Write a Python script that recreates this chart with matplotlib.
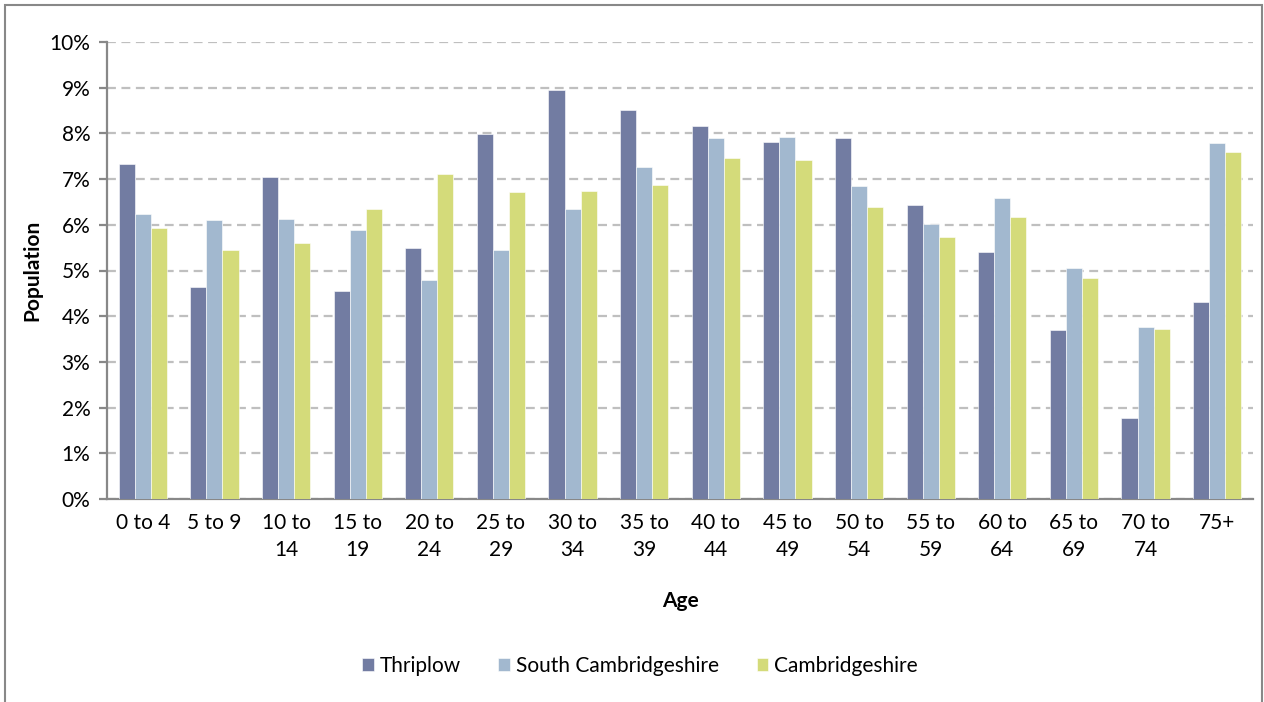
import matplotlib
matplotlib.use("Agg")
import matplotlib.pyplot as plt
import numpy as np
from matplotlib.patches import Rectangle
from matplotlib.ticker import FuncFormatter

categories = ["0 to 4", "5 to 9", "10 to\n14", "15 to\n19", "20 to\n24", "25 to\n29",
              "30 to\n34", "35 to\n39", "40 to\n44", "45 to\n49", "50 to\n54", "55 to\n59",
              "60 to\n64", "65 to\n69", "70 to\n74", "75+"]
thriplow = [7.33, 4.64, 7.04, 4.55, 5.49, 7.99, 8.96, 8.51, 8.17, 7.82, 7.90, 6.43, 5.41, 3.69, 1.78, 4.30]
south_cambs = [6.24, 6.11, 6.13, 5.89, 4.80, 5.44, 6.35, 7.26, 7.90, 7.93, 6.85, 6.01, 6.58, 5.05, 3.77, 7.79]
cambs = [5.94, 5.45, 5.61, 6.35, 7.12, 6.72, 6.74, 6.88, 7.46, 7.41, 6.38, 5.74, 6.16, 4.83, 3.72, 7.60]
series_names = ["Thriplow", "South Cambridgeshire", "Cambridgeshire"]
colors = ["#727CA2", "#A2B8CF", "#D4DB7A"]

plt.rcParams['font.family'] = ['Lato', 'DejaVu Sans']

W, H = 1264, 702
fig = plt.figure(figsize=(W/100, H/100), dpi=100)
ax = fig.add_axes([107/W, 1-499/H, (1253-107)/W, (499-42)/H])

x = np.arange(len(categories))
bw = 0.224
for i, (vals, name, c) in enumerate(zip([thriplow, south_cambs, cambs], series_names, colors)):
    ax.bar(x + (i-1)*bw, vals, width=bw, color=c, label=name, edgecolor='white', linewidth=0.4, zorder=3)

ax.set_xlim(-0.5, len(categories)-0.5)
ax.set_ylim(0, 10)
ax.set_yticks(np.arange(0, 11, 1))
ax.yaxis.set_major_formatter(FuncFormatter(lambda v, p: f"{int(round(v))}%"))
ax.grid(axis='y', color='#BFBFBF', linestyle=(0, (4, 2.5)), linewidth=1.6, zorder=0)
ax.set_axisbelow(True)
for s in ['top', 'right']:
    ax.spines[s].set_visible(False)
for s in ['left', 'bottom']:
    ax.spines[s].set_color('#888888')
    ax.spines[s].set_linewidth(1.6)
ax.tick_params(axis='y', length=6, width=1.6, color='#888888', labelsize=15, pad=6)
ax.tick_params(axis='x', length=0, labelsize=15, pad=10)
ax.set_xticks(x)
ax.set_xticklabels(categories, linespacing=1.45)
ax.set_xlabel("Age", fontsize=15, fontweight='bold', labelpad=22)
ax.set_ylabel("Population", fontsize=15, fontweight='bold', labelpad=5)

ax.legend(loc='center', bbox_to_anchor=(640/W, 1-666/H), bbox_transform=fig.transFigure,
          ncol=3, frameon=False, fontsize=15, handlelength=0.55, handleheight=0.55,
          handletextpad=0.3, columnspacing=1.8)

fig.patches.append(Rectangle((5/W, -0.05), (1262-5)/W, 1.05 - 5/H,
                             transform=fig.transFigure, fill=False, edgecolor='#888888', linewidth=1.5))

fig.savefig("out.png", dpi=100)
